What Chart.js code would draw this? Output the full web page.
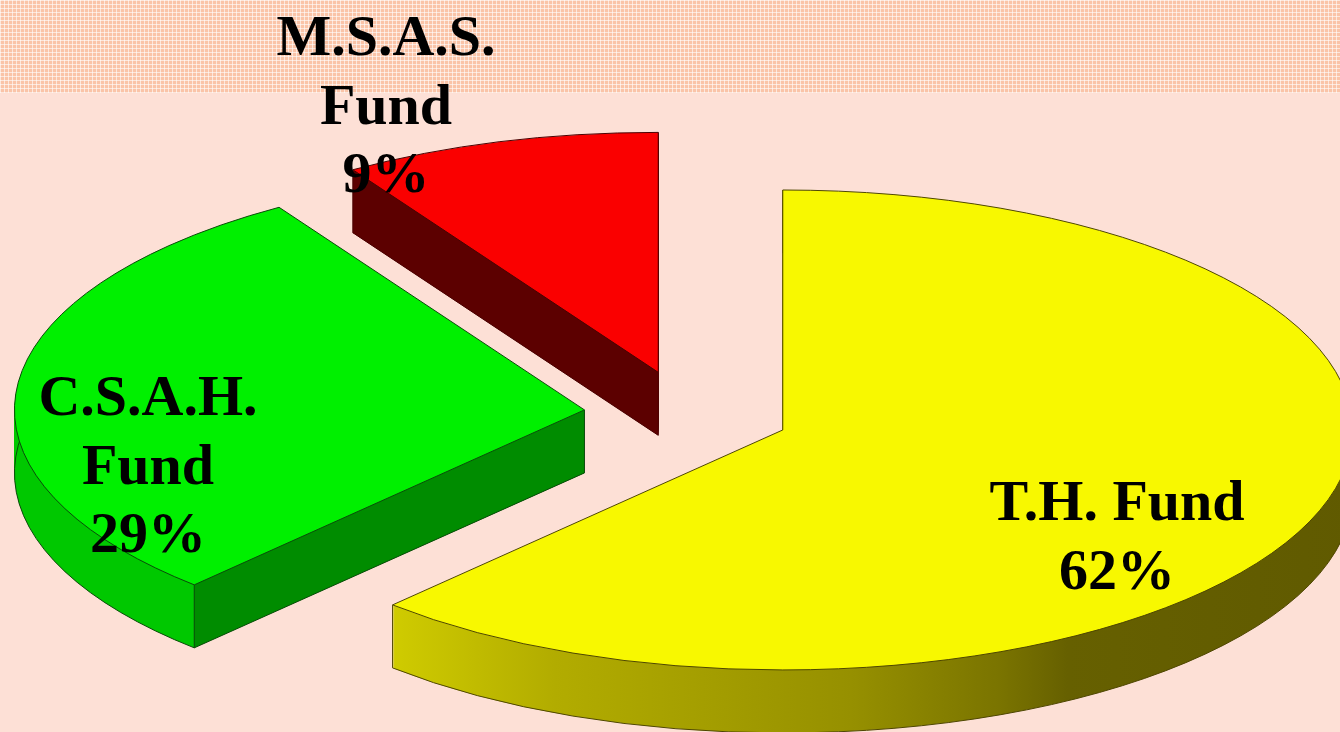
<!DOCTYPE html>
<html lang="en">
<head>
  <meta charset="UTF-8">
  <title>Fund shares</title>
  <style>
    body {
      margin: 0;
      padding: 0;
      background: #fde0d6;
      overflow: hidden;
    }

    .wrap {
      position: relative;
      width: 1340px;
      height: 732px;
    }

    /* textured band along the top edge */
    .band {
      position: absolute;
      left: 0;
      top: 0;
      width: 1340px;
      height: 93px;
      background-color: #fac4a8;
      background-image:
        repeating-linear-gradient(0deg, rgba(255, 255, 255, 0.6) 0 1px, transparent 1px 4px),
        repeating-linear-gradient(90deg, rgba(255, 255, 255, 0.6) 0 1px, transparent 1px 4px);
    }

    #pie {
      position: absolute;
      left: 0;
      top: 0;
    }
  </style>
</head>
<body>
  <div class="wrap">
    <div class="band"></div>
    <canvas id="pie"></canvas>
  </div>

  <script src="https://cdn.jsdelivr.net/npm/chart.js"></script>
  <script>
    // chart data
    const funds = ['T.H. Fund', 'C.S.A.H. Fund', 'M.S.A.S. Fund'];
    const shares = [62, 29, 9];
    const nameLines = [['T.H. Fund'], ['C.S.A.H.', 'Fund'], ['M.S.A.S.', 'Fund']];

    // colours per slice: top face, rim shading (left -> right), cut face, outline
    const topColors = ['#f8f800', '#00f000', '#fa0000'];
    const rimStops = [0.16, 0.3, 0.56, 0.69, 0.75, 1];
    const rimColors = [
      ['#cfcb00', '#b2ac00', '#969000', '#7a7400', '#666000', '#605a00'],
      ['#00c800', '#00cc00', '#00d000', '#00d000', '#00d000', '#00d000'],
      ['#700000', '#680000', '#5c0000', '#5c0000', '#5c0000', '#5c0000']
    ];
    const faceColors = ['#9a9400', '#008c00', '#5c0000'];
    const edgeColors = ['#4e4600', '#0a4a0a', '#4a0000'];

    // look of the 3d pie
    const CENTER_Y = 414;   // screen y of the pie centre
    const TILT = 0.421;     // vertical squash of the disc
    const DEPTH = 63;       // thickness in px
    const EXPLODE = 103;    // how far each slice is pulled out
    const RADIUS = 570;

    // where the labels go (centre x, first baseline)
    const labelSpots = [[1117, 520], [148, 415], [386, 55]];
    const LINE_STEP = 68.5;

    const tilt3d = {
      id: 'tilt3d',
      beforeDatasetsDraw(chart) {
        const ctx = chart.ctx;
        const arcs = chart.getDatasetMeta(0).data;
        const base = ctx.getTransform();
        const cy = (chart.chartArea.top + chart.chartArea.bottom) / 2;

        const geo = arc => {
          const p = arc.getProps(['x', 'y', 'startAngle', 'endAngle', 'outerRadius']);
          const mid = (p.startAngle + p.endAngle) / 2;
          p.cx = p.x + Math.cos(mid) * EXPLODE;
          p.cy = CENTER_Y + (p.y + Math.sin(mid) * EXPLODE - cy) * TILT;
          return p;
        };
        // point on the disc edge (or centre when r = 0), in screen px
        const spot = (g, angle, r, drop) =>
          [g.cx + Math.cos(angle) * r, g.cy + drop + Math.sin(angle) * r * TILT];
        const wedge = (g, drop) => {
          ctx.beginPath();
          ctx.moveTo(g.cx, g.cy + drop);
          ctx.ellipse(g.cx, g.cy + drop, g.outerRadius, g.outerRadius * TILT, 0, g.startAngle, g.endAngle);
          ctx.closePath();
        };
        const quad = (g, angle) => {
          const a = spot(g, angle, 0, 0), b = spot(g, angle, g.outerRadius, 0);
          ctx.beginPath();
          ctx.moveTo(a[0], a[1]);
          ctx.lineTo(b[0], b[1]);
          ctx.lineTo(b[0], b[1] + DEPTH);
          ctx.lineTo(a[0], a[1] + DEPTH);
          ctx.closePath();
        };
        const line = (p, q) => {
          ctx.beginPath();
          ctx.moveTo(p[0], p[1]);
          ctx.lineTo(q[0], q[1]);
          ctx.stroke();
        };

        ctx.save();
        ctx.setTransform(base);

        // sides
        arcs.forEach((arc, i) => {
          const g = geo(arc);
          const grad = ctx.createLinearGradient(g.cx - g.outerRadius, 0, g.cx + g.outerRadius, 0);
          rimColors[i].forEach((c, k) => grad.addColorStop(rimStops[k], c));
          ctx.fillStyle = grad;
          for (let d = DEPTH; d >= 1; d--) {
            wedge(g, d);
            ctx.fill();
          }

          ctx.strokeStyle = edgeColors[i];
          ctx.lineWidth = 1;
          // lower rim edge
          ctx.beginPath();
          ctx.ellipse(g.cx, g.cy + DEPTH, g.outerRadius, g.outerRadius * TILT, 0, g.startAngle, g.endAngle);
          ctx.stroke();

          // cut faces that turn towards the viewer
          const open = [];
          if (Math.cos(g.startAngle) < -0.01) open.push(g.startAngle);
          if (Math.cos(g.endAngle) > 0.01) open.push(g.endAngle);
          open.forEach(ang => {
            ctx.fillStyle = faceColors[i];
            quad(g, ang);
            ctx.fill();
            line(spot(g, ang, 0, DEPTH), spot(g, ang, g.outerRadius, DEPTH));
            line(spot(g, ang, 0, 0), spot(g, ang, 0, DEPTH));
          });
          [g.startAngle, g.endAngle].forEach(ang => {
            line(spot(g, ang, g.outerRadius, 0), spot(g, ang, g.outerRadius, DEPTH));
          });
        });

        // top faces, drawn by the arc elements on the squashed plane
        arcs.forEach((arc, i) => {
          const g = geo(arc);
          const mid = (g.startAngle + g.endAngle) / 2;
          ctx.setTransform(base);
          ctx.translate(0, CENTER_Y);
          ctx.scale(1, TILT);
          ctx.translate(0, -cy);
          ctx.translate(Math.cos(mid) * EXPLODE, Math.sin(mid) * EXPLODE);
          arc.draw(ctx);

          ctx.setTransform(base);
          ctx.strokeStyle = edgeColors[i];
          ctx.lineWidth = 1;
          wedge(g, 0);
          ctx.stroke();
        });

        ctx.restore();
        return false;
      },
      afterDraw(chart) {
        const ctx = chart.ctx;
        ctx.save();
        ctx.font = 'bold 58px "Liberation Serif", "Times New Roman", serif';
        ctx.fillStyle = '#000';
        ctx.textAlign = 'center';
        ctx.textBaseline = 'alphabetic';
        nameLines.forEach((lines, i) => {
          const [x, y] = labelSpots[i];
          lines.concat([shares[i] + '%']).forEach((t, k) => {
            ctx.fillText(t, x, y + k * LINE_STEP);
          });
        });
        ctx.restore();
      }
    };

    new Chart(document.getElementById('pie'), {
      type: 'pie',
      data: {
        labels: funds,
        datasets: [{
          data: shares,
          backgroundColor: topColors,
          borderWidth: 0,
          radius: RADIUS
        }]
      },
      options: {
        responsive: true,
        maintainAspectRatio: false,
        animation: false,
        events: [],
        layout: { padding: { left: 34 } },
        plugins: {
          legend: { display: false },
          tooltip: { enabled: false }
        }
      },
      plugins: [tilt3d]
    });
  </script>
</body>
</html>
